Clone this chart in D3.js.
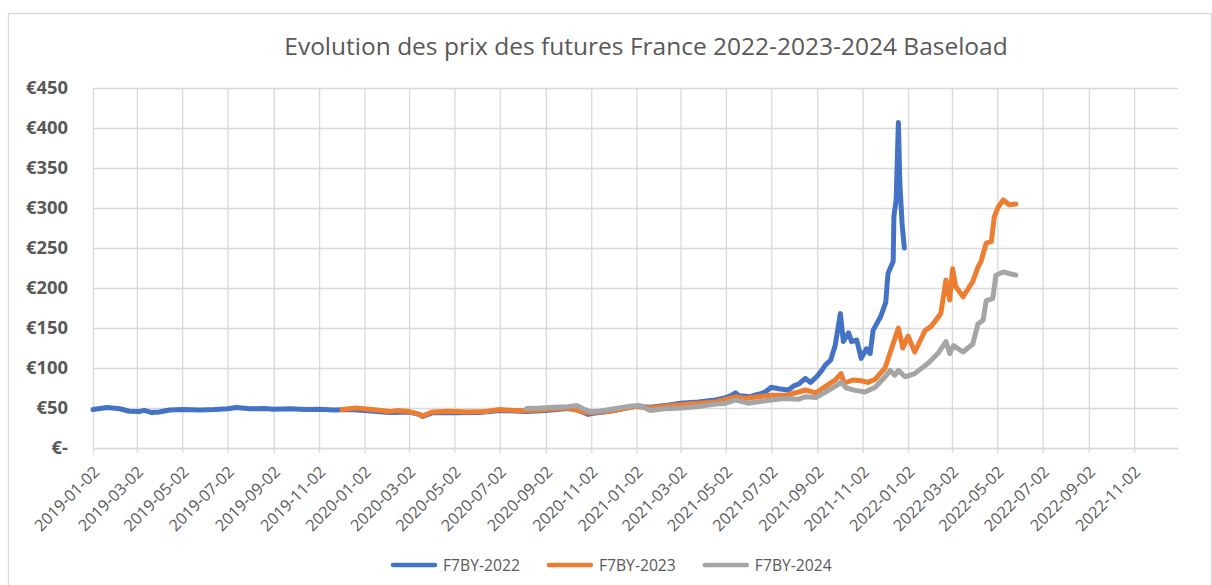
<!DOCTYPE html>
<html>
<head>
<meta charset="utf-8">
<script src="https://cdn.jsdelivr.net/npm/d3@7"></script>
<style>
  body { margin: 0; background: #fff; }
</style>
</head>
<body>
<div class="chart"></div>
<script>

// F7BY-2022
const dates2022 = ["2019-01-02","2019-01-21","2019-02-07","2019-02-20","2019-03-05","2019-03-12","2019-03-21","2019-04-01","2019-04-15","2019-05-02",
  "2019-05-26","2019-06-15","2019-07-02","2019-07-14","2019-08-01","2019-08-21","2019-09-02","2019-09-24","2019-10-15","2019-11-02",
  "2019-11-23","2019-12-13","2020-01-02","2020-02-05","2020-03-02","2020-03-16","2020-03-20","2020-04-02","2020-05-02","2020-06-04",
  "2020-07-02","2020-08-07","2020-09-02","2020-10-01","2020-10-14","2020-10-29","2020-11-02","2020-11-27","2020-12-18","2021-01-02",
  "2021-01-20","2021-02-09","2021-03-02","2021-03-26","2021-04-18",
  "2021-05-02","2021-05-10","2021-05-15","2021-05-20","2021-05-26","2021-06-03","2021-06-10","2021-06-18","2021-06-24","2021-07-02",
  "2021-07-12","2021-07-25","2021-08-02","2021-08-08","2021-08-17","2021-08-24","2021-09-02","2021-09-08","2021-09-13","2021-09-20",
  "2021-09-26","2021-10-03","2021-10-07","2021-10-14","2021-10-18","2021-10-25","2021-10-31","2021-11-07","2021-11-12","2021-11-16",
  "2021-11-26","2021-12-03","2021-12-06","2021-12-13","2021-12-14","2021-12-17","2021-12-20","2021-12-22","2021-12-25","2021-12-28"];
const prices2022 = [48,50.5,49,46,45.5,47,44.5,45,47.5,48,
  47.5,48,49,50.5,49,49.5,48.5,49,48,48.5,
  47.5,48,47,44.5,45,42,39.5,44,44,44.5,
  47,45.5,47,49.5,48,42,43,46,50,52,
  51,53,56,57.5,60,
  63,66,69,65,65,64,66,68,70,76,
  74,72.5,78,80,87,82,90,97,104,110,
  128,168,133,144,133,135,112,124,118,147,
  164,182,218,233,290,310,407,330,280,250];

// F7BY-2023
const dates2023 = ["2019-12-03","2019-12-22","2020-01-09","2020-02-05","2020-02-16","2020-03-02","2020-03-16","2020-03-20","2020-04-02","2020-04-26",
  "2020-05-19","2020-06-13","2020-07-02","2020-07-22","2020-08-07","2020-09-02","2020-10-01","2020-10-29","2020-11-27","2021-01-02",
  "2021-01-20","2021-03-02","2021-04-18","2021-05-15","2021-05-28","2021-07-02","2021-07-21","2021-08-08","2021-08-17","2021-08-31",
  "2021-09-13","2021-09-26","2021-10-04","2021-10-08","2021-10-20","2021-10-31","2021-11-09","2021-11-19","2021-12-02","2021-12-10",
  "2021-12-20","2021-12-26","2022-01-02","2022-01-11","2022-01-25","2022-02-02","2022-02-07","2022-02-15","2022-02-22","2022-02-27",
  "2022-03-03","2022-03-07","2022-03-17","2022-03-21","2022-03-30","2022-04-06","2022-04-10","2022-04-17","2022-04-24","2022-04-28",
  "2022-05-03","2022-05-10","2022-05-18","2022-05-27"];
const prices2023 = [48,50,48.5,45.5,47,45.5,42,40,45,46,
  45,45.5,48,47,46.5,48,50,44,46,52,
  50,54,57.5,64,62,66,66,70,72.5,69,
  77,85,93,81,85,84,82,86,100,122,
  150,125,140,120,147,152,158,168,210,185,
  224,202,189,195,208,226,233,256,258,289,
  301,310,304,305];

// F7BY-2024
const dates2024 = ["2020-08-07","2020-08-25","2020-09-14","2020-10-01","2020-10-14","2020-10-22","2020-10-31","2020-11-13","2020-12-03","2020-12-27",
  "2021-01-06","2021-01-20","2021-02-09","2021-03-04","2021-03-26","2021-04-18","2021-05-02","2021-05-15","2021-06-01","2021-07-02",
  "2021-07-21","2021-08-08","2021-08-17","2021-08-31","2021-09-13","2021-09-26","2021-10-04","2021-10-11","2021-10-23","2021-11-05",
  "2021-11-19","2021-12-02","2021-12-09","2021-12-15","2021-12-20","2021-12-29","2022-01-11","2022-01-29","2022-02-11","2022-02-22",
  "2022-02-27","2022-03-04","2022-03-17","2022-03-30","2022-04-06","2022-04-13","2022-04-17","2022-04-26","2022-04-30","2022-05-10",
  "2022-05-27"];
const prices2024 = [49.5,50,51,51.5,53,49,45.5,46,49,52.5,
  53,47,49,50,52,55,56,60,56,60,
  62,61,64,63,70,77,82,75,72,70,
  76,89,97,91,97,89,93,106,118,133,
  118,128,120,130,155,160,184,187,216,220,
  216];

const seriesNames = ["F7BY-2022", "F7BY-2023", "F7BY-2024"];
const seriesColors = ["#4472C4", "#ED7D31", "#A5A5A5"];
const yTicks = [0, 50, 100, 150, 200, 250, 300, 350, 400, 450];
const xTickLabels = ["2019-01-02","2019-03-02","2019-05-02","2019-07-02","2019-09-02","2019-11-02",
  "2020-01-02","2020-03-02","2020-05-02","2020-07-02","2020-09-02","2020-11-02",
  "2021-01-02","2021-03-02","2021-05-02","2021-07-02","2021-09-02","2021-11-02",
  "2022-01-02","2022-03-02","2022-05-02","2022-07-02","2022-09-02","2022-11-02"];
const chartTitle = "Evolution des prix des futures France 2022-2023-2024 Baseload";

const W = 1212, H = 585;
const margin = {top: 88, right: 34, bottom: 137, left: 93},
  width = W - margin.left - margin.right,
  height = H - margin.top - margin.bottom;

const FONT = "'Open Sans', 'DejaVu Sans', sans-serif";
const TEXT = "#595959", GRID = "#D9D9D9";

const parse = d3.timeParse("%Y-%m-%d");
const fmt = d3.timeFormat("%Y-%m-%d");

const root = d3.select(".chart").append("svg")
  .attr("width", W)
  .attr("height", H)
  .style("font-family", FONT);

// measure a string and return the font size that gives the wanted width
function fitSize(str, weight, target) {
  const t = root.append("text").attr("font-size", 20).attr("font-weight", weight).text(str);
  const w = t.node().getComputedTextLength();
  t.remove();
  return 20 * target / w;
}

// chart frame
root.append("rect")
  .attr("x", 8.5).attr("y", 13.5)
  .attr("width", 1203).attr("height", 620)
  .attr("fill", "#fff")
  .attr("stroke", GRID)
  .attr("stroke-width", 1.3);

// title
root.append("text")
  .attr("x", 646).attr("y", 55)
  .attr("text-anchor", "middle")
  .attr("fill", TEXT)
  .attr("font-size", fitSize(chartTitle, 400, 724))
  .text(chartTitle);

const svg = root.append("g")
  .attr("transform", "translate(" + margin.left + "," + margin.top + ")");

const xScale = d3.scaleTime()
  .domain([parse("2019-01-02"), parse("2022-12-31")])
  .range([0, width]);

const yScale = d3.scaleLinear()
  .domain([0, 450])
  .range([height, 0]);

// horizontal gridlines + y labels
const yaxis = svg.append("g")
  .attr("class", "axis y-axis")
  .call(d3.axisLeft(yScale)
    .tickValues(yTicks)
    .tickSize(-width)
    .tickPadding(25)
    .tickFormat(d => d === 0 ? "€-" : "€" + d));
yaxis.select(".domain").remove();
yaxis.selectAll(".tick line").attr("stroke", GRID).attr("stroke-width", 1.3);
yaxis.selectAll(".tick text")
  .attr("fill", TEXT)
  .attr("font-family", FONT)
  .attr("font-weight", "bold")
  .attr("font-size", fitSize("€450", "bold", 42));

// vertical gridlines
const xgrid = svg.append("g")
  .attr("class", "x-grid")
  .attr("transform", "translate(0," + height + ")")
  .call(d3.axisBottom(xScale)
    .tickValues(xTickLabels.map(parse))
    .tickSize(-height)
    .tickFormat(""));
xgrid.select(".domain").remove();
xgrid.selectAll(".tick line").attr("stroke", GRID).attr("stroke-width", 1.3);

// x axis with rotated labels
const xaxis = svg.append("g")
  .attr("class", "axis x-axis")
  .attr("transform", "translate(0," + height + ")")
  .call(d3.axisBottom(xScale)
    .tickValues(xTickLabels.map(parse))
    .tickSize(5)
    .tickSizeOuter(0)
    .tickFormat(fmt));
xaxis.select(".domain").attr("stroke", GRID).attr("stroke-width", 1.3);
xaxis.selectAll(".tick line").attr("stroke", GRID).attr("stroke-width", 1.3);
xaxis.selectAll(".tick text")
  .attr("fill", TEXT)
  .attr("font-family", FONT)
  .attr("font-size", fitSize("2019-01-02", 400, 84))
  .attr("text-anchor", "end")
  .attr("x", 0).attr("y", 0).attr("dy", 0)
  .attr("transform", "translate(7,25) rotate(-45)");

// lines
const series = [
  {name: seriesNames[0], color: seriesColors[0], values: d3.zip(dates2022, prices2022)},
  {name: seriesNames[1], color: seriesColors[1], values: d3.zip(dates2023, prices2023)},
  {name: seriesNames[2], color: seriesColors[2], values: d3.zip(dates2024, prices2024)}
];

const line = d3.line()
  .x(d => xScale(parse(d[0])))
  .y(d => yScale(d[1]));

svg.selectAll(".series")
  .data(series)
  .enter().append("path")
  .attr("class", "series")
  .attr("d", d => line(d.values))
  .attr("fill", "none")
  .attr("stroke", d => d.color)
  .attr("stroke-width", 5)
  .attr("stroke-linejoin", "round")
  .attr("stroke-linecap", "round");

// legend
const legendSize = fitSize("F7BY-2022", 400, 77);
const legend = root.append("g").attr("class", "legend");
let lx = 393;
series.forEach(s => {
  const g = legend.append("g").attr("transform", "translate(" + lx + ",565)");
  g.append("line")
    .attr("x1", 0).attr("x2", 42)
    .attr("stroke", s.color)
    .attr("stroke-width", 4.5)
    .attr("stroke-linecap", "round");
  const t = g.append("text")
    .attr("x", 50)
    .attr("dy", "0.35em")
    .attr("fill", TEXT)
    .attr("font-size", legendSize)
    .text(s.name);
  lx += 50 + t.node().getComputedTextLength() + 29;
});

</script>
</body>
</html>
